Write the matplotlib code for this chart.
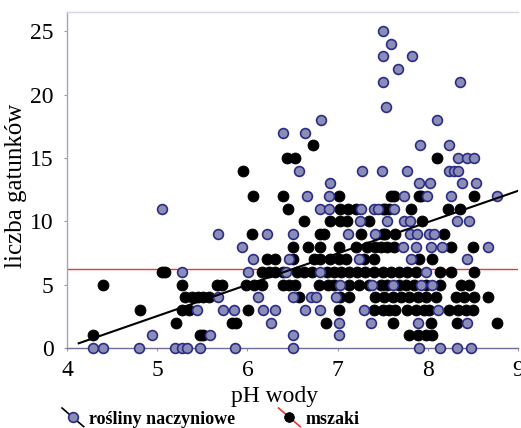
import matplotlib
matplotlib.use("Agg")
import matplotlib.pyplot as plt
from matplotlib.legend_handler import HandlerBase
from matplotlib.lines import Line2D

# --- data -----------------------------------------------------------------
# vascular plants: water pH and number of species
vascular_ph = [
    7.50,
    7.59,
    7.50, 7.82,
    7.67,
    7.50, 8.36,
    7.54,
    6.82, 8.10,
    6.40, 6.64,
    7.91, 8.23,
    8.33, 8.44, 8.51,
    6.57, 7.27, 7.49, 7.77, 8.24, 8.29, 8.34,
    6.92, 7.90, 8.02, 8.38, 8.53,
    6.66, 6.90, 7.74, 7.99, 8.26, 8.77,
    5.05, 6.81, 6.91, 7.26, 7.40, 7.45, 7.62,
    7.25, 7.55, 7.74, 7.80, 8.32, 8.46,
    5.67, 6.22, 6.51, 7.11, 7.42, 7.80, 7.88, 8.01, 8.07,
    5.94, 7.72, 7.87, 8.04, 8.16, 8.67,
    6.06, 6.46, 7.24, 7.81, 8.44,
    5.27, 6.01, 6.43, 6.80, 7.98,
    7.03, 7.38, 7.61, 7.92, 8.05,
    5.67, 6.12, 6.50, 6.70, 6.76, 6.98,
    5.44, 5.73, 5.85, 6.17, 6.31, 6.64, 6.81, 7.29, 8.11,
    6.26, 7.01, 7.37, 7.89, 8.44,
    4.94, 5.58, 6.51, 7.01,
    4.29, 4.40, 4.80, 5.20, 5.27, 5.33, 5.48, 5.86, 6.51, 7.90, 8.13, 8.32, 8.48,
]
vascular_n = [
    25,
    24,
    23, 23,
    22,
    21, 21,
    19,
    18, 18,
    17, 17,
    16, 16,
    15, 15, 15,
    14, 14, 14, 14, 14, 14, 14,
    13, 13, 13, 13, 13,
    12, 12, 12, 12, 12, 12,
    11, 11, 11, 11, 11, 11, 11,
    10, 10, 10, 10, 10, 10,
    9, 9, 9, 9, 9, 9, 9, 9, 9,
    8, 8, 8, 8, 8, 8,
    7, 7, 7, 7, 7,
    6, 6, 6, 6, 6,
    5, 5, 5, 5, 5,
    4, 4, 4, 4, 4, 4,
    3, 3, 3, 3, 3, 3, 3, 3, 3,
    2, 2, 2, 2, 2,
    1, 1, 1, 1,
    0, 0, 0, 0, 0, 0, 0, 0, 0, 0, 0, 0, 0,
]

# mosses: water pH and number of species
moss_ph = [
    6.73,
    6.44, 6.53, 8.10,
    5.95,
    6.06, 6.40, 7.01, 7.59, 7.63, 7.90, 7.93, 8.51,
    6.45, 7.03, 7.11, 7.20, 7.50, 7.53, 7.57, 7.81, 8.22, 8.36,
    6.63, 6.92, 7.03, 7.10, 7.35, 7.94,
    6.05, 6.81, 6.85, 7.26, 7.50, 7.53, 7.64, 8.18,
    6.50, 6.67, 6.81, 7.01, 7.20, 7.33, 7.42, 7.48, 7.55, 7.63, 8.26, 8.50,
    6.22, 6.31, 6.51, 6.74, 6.81, 6.92, 7.01, 7.09, 7.29, 7.40, 7.90, 8.05,
    5.05, 5.09, 6.16, 6.24, 6.31, 6.40, 6.55, 6.63, 6.72, 6.88, 6.96, 7.04,
    7.13, 7.22, 7.30, 7.40, 7.50, 7.59, 7.68, 7.77, 7.87, 8.14, 8.26, 8.51,
    4.40, 5.27, 5.66, 5.72, 5.98, 6.07, 6.16, 6.40, 6.46, 6.53, 6.79, 6.89,
    6.96, 7.13, 7.24, 7.35, 7.48, 7.55, 7.68, 7.76, 7.85, 7.98, 8.14, 8.37, 8.46,
    5.31, 5.39, 5.45, 5.51, 5.57, 6.57, 7.03, 7.13, 7.42, 7.51, 7.61, 7.70,
    7.79, 7.89, 7.98, 8.09, 8.31, 8.40, 8.51, 8.67,
    4.81, 5.27, 5.35, 6.01, 7.01, 7.40, 7.50, 7.57, 7.64, 7.77, 7.87, 7.96,
    8.01, 8.24, 8.33, 8.42, 8.50,
    5.21, 5.83, 5.87, 6.87, 7.61, 8.03, 8.32, 8.77,
    4.29, 5.48, 5.51, 7.79, 7.89, 7.98, 8.05,
]
moss_n = [
    16,
    15, 15, 15,
    14,
    12, 12, 12, 12, 12, 12, 12, 12,
    11, 11, 11, 11, 11, 11, 11, 11, 11, 11,
    10, 10, 10, 10, 10, 10,
    9, 9, 9, 9, 9, 9, 9, 9,
    8, 8, 8, 8, 8, 8, 8, 8, 8, 8, 8, 8,
    7, 7, 7, 7, 7, 7, 7, 7, 7, 7, 7, 7,
    6, 6, 6, 6, 6, 6, 6, 6, 6, 6, 6, 6,
    6, 6, 6, 6, 6, 6, 6, 6, 6, 6, 6, 6,
    5, 5, 5, 5, 5, 5, 5, 5, 5, 5, 5, 5,
    5, 5, 5, 5, 5, 5, 5, 5, 5, 5, 5, 5, 5,
    4, 4, 4, 4, 4, 4, 4, 4, 4, 4, 4, 4,
    4, 4, 4, 4, 4, 4, 4, 4,
    3, 3, 3, 3, 3, 3, 3, 3, 3, 3, 3, 3,
    3, 3, 3, 3, 3,
    2, 2, 2, 2, 2, 2, 2, 2,
    1, 1, 1, 1, 1, 1, 1,
]

# fitted trends: vascular plants (intercept, slope), mosses (flat level)
vascular_fit = (-9.83, 2.47)
vascular_fit_range = (4.13, 9.0)
moss_level = 6.2

x_ticks = [4, 5, 6, 7, 8, 9]
y_ticks = [0, 5, 10, 15, 20, 25]
x_label = "pH wody"
y_label = "liczba gatunków"
legend_labels = ["rośliny naczyniowe", "mszaki"]

# --- style ----------------------------------------------------------------
SERIF = ["Liberation Serif", "DejaVu Serif"]
plt.rcParams["font.family"] = SERIF
BLUE_FACE = "#8a8eb6"
BLUE_EDGE = "#2c2c88"
RED = "#e23a35"


class DiagonalHandler(HandlerBase):
    """Legend key: a marker crossed by a short descending line."""

    def create_artists(self, legend, orig_handle, xdescent, ydescent,
                       width, height, fontsize, trans):
        cx = width / 2 - xdescent
        cy = height / 2 - ydescent
        half_w = width / 2
        half_h = width * 0.43
        line = Line2D([cx - half_w, cx + half_w],
                      [cy + half_h, cy - half_h],
                      color=orig_handle.get_color(), lw=1.2)
        dot = Line2D([cx], [cy], marker="o", linestyle="none",
                     markersize=orig_handle.get_markersize(),
                     markerfacecolor=orig_handle.get_markerfacecolor(),
                     markeredgecolor=orig_handle.get_markeredgecolor(),
                     markeredgewidth=orig_handle.get_markeredgewidth())
        line.set_transform(trans)
        dot.set_transform(trans)
        return [line, dot]


W, H = 521, 428
fig = plt.figure(figsize=(W / 100, H / 100), dpi=100)
ax = fig.add_axes([67 / W, 1 - 348 / H, 451 / W, 336.5 / H])

ax.scatter(moss_ph, moss_n, s=62, c="black", edgecolors="black",
           linewidths=0.6, zorder=3, clip_on=False)
ax.scatter(vascular_ph, vascular_n, s=50, c=BLUE_FACE, edgecolors=BLUE_EDGE,
           linewidths=1.2, zorder=4, clip_on=False)

b0, b1 = vascular_fit
fx = list(vascular_fit_range)
ax.plot(fx, [b0 + b1 * v for v in fx], color="black", lw=1.5, zorder=5)
ax.axhline(moss_level, color=RED, lw=1.0, zorder=2)

ax.set_xlim(4, 9)
ax.set_ylim(0, 26.55)
ax.set_xticks(x_ticks)
ax.set_yticks(y_ticks)
ax.tick_params(axis="both", labelsize=17, length=2.5, width=0.8,
               color="#9a9ab0", direction="out")
ax.tick_params(axis="x", pad=6)
ax.tick_params(axis="y", pad=7)

ax.spines["right"].set_visible(False)
ax.spines["left"].set_color("#a4a4bc")
ax.spines["bottom"].set_color("#6e6e96")
ax.spines["top"].set_color("#d8d8e0")
for sp in ax.spines.values():
    sp.set_linewidth(1.0)

ax.set_xlabel(x_label, fontsize=17)
ax.set_ylabel(y_label, fontsize=18)
ax.xaxis.set_label_coords((275 - 67) / 451, -(386 - 348) / 336.5)
ax.yaxis.set_label_coords((27 - 67) / 451, (348 - 186) / 336.5)

handles = [
    Line2D([], [], color="black", marker="o", markersize=7,
           markerfacecolor=BLUE_FACE, markeredgecolor=BLUE_EDGE,
           markeredgewidth=1.2),
    Line2D([], [], color=RED, marker="o", markersize=7,
           markerfacecolor="black", markeredgecolor="black",
           markeredgewidth=0.6),
]
fig.legend(handles, legend_labels, loc="center left",
           bbox_to_anchor=(62 / W, 1 - 419 / H), ncol=2, frameon=False,
           handler_map={Line2D: DiagonalHandler()},
           handlelength=1.2, handleheight=0.8, handletextpad=0.3,
           columnspacing=2.4, borderpad=0, borderaxespad=0,
           prop={"family": SERIF, "weight": "bold", "size": 13})

fig.savefig("out.png", dpi=100)
